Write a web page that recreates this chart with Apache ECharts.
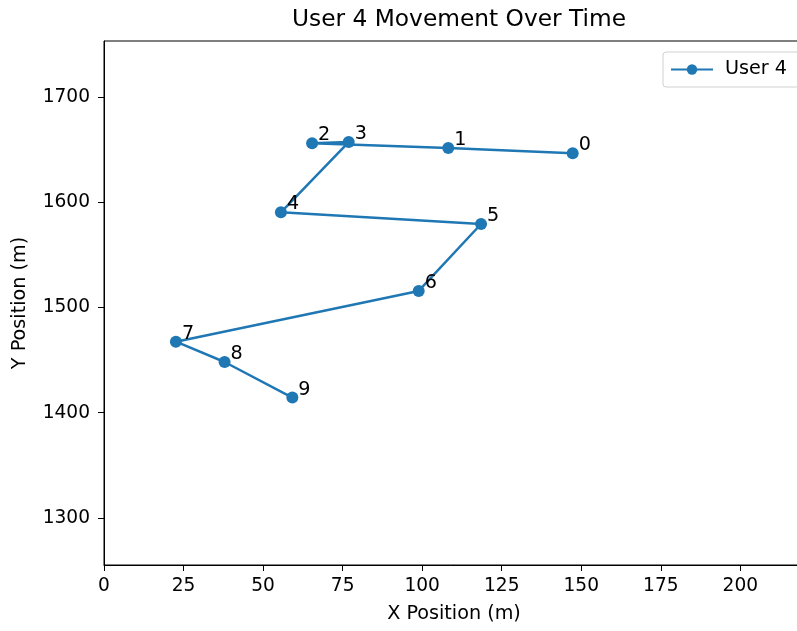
<!DOCTYPE html>
<html>
<head>
<meta charset="utf-8">
<script src="https://cdn.jsdelivr.net/npm/echarts@6/dist/echarts.min.js"></script>
<style>
html,body{margin:0;padding:0;background:#fff;}
#chart{width:797px;height:631px;}
</style>
</head>
<body>
<div id="chart"></div>
<script>
const pointLabels = ['0','1','2','3','4','5','6','7','8','9'];
const xValues = [147.3, 108.2, 65.4, 76.9, 55.6, 118.5, 98.9, 22.6, 37.9, 59.2];
const yValues = [1646.5, 1651.5, 1656.1, 1657.2, 1590.4, 1579.3, 1515.7, 1467.5, 1448.2, 1414.4];
const xTicks = [0, 25, 50, 75, 100, 125, 150, 175, 200];
const yTicks = [1300, 1400, 1500, 1600, 1700];
const seriesName = 'User 4';

const data = xValues.map((x, i) => [x, yValues[i]]);
const font = 'DejaVu Sans';
const fs = 19.2;
const tfs = 18.6;
const chart = echarts.init(document.getElementById('chart'), null, {renderer: 'canvas'});
chart.setOption({
  animation: false,
  backgroundColor: '#fff',
  title: {
    text: 'User 4 Movement Over Time',
    left: 454, top: 3, textAlign: 'center',
    textStyle: {fontFamily: font, fontSize: 23.3, fontWeight: 'normal', color: '#000'}
  },
  legend: {
    left: 663, top: 52,
    padding: [8, 12, 8, 7],
    borderColor: '#d0d0d0', borderWidth: 1, borderRadius: 3,
    itemWidth: 42, itemHeight: 13,
    textStyle: {fontFamily: font, fontSize: fs, color: '#000', padding: [0, 0, 0, 7]},
    data: [seriesName]
  },
  grid: {
    left: 104, width: 700, top: 41, height: 524,
    outerBoundsMode: 'none',
    show: true, borderColor: '#000', borderWidth: 1, containLabel: false
  },
  xAxis: {
    type: 'value', min: 0, max: 220,
    name: 'X Position (m)', nameLocation: 'middle', nameGap: 40,
    nameTextStyle: {fontFamily: font, fontSize: fs, color: '#000'},
    axisLine: {show: true, lineStyle: {color: '#000'}},
    axisTick: {show: true, length: 6, lineStyle: {color: '#000'}, customValues: xTicks},
    axisLabel: {fontFamily: font, fontSize: tfs, color: '#000', margin: 12, customValues: xTicks,
                formatter: v => String(v)},
    splitLine: {show: false}
  },
  yAxis: {
    type: 'value', min: 1255.3, max: 1753.2,
    name: 'Y Position (m)', nameLocation: 'middle', nameGap: 74, nameRotate: 90,
    nameTextStyle: {fontFamily: font, fontSize: fs, color: '#000'},
    axisLine: {show: true, lineStyle: {color: '#000'}},
    axisTick: {show: true, length: 6, lineStyle: {color: '#000'}, customValues: yTicks},
    axisLabel: {fontFamily: font, fontSize: tfs, color: '#000', margin: 14, customValues: yTicks,
                formatter: v => String(v)},
    splitLine: {show: false}
  },
  series: [{
    name: seriesName,
    type: 'line',
    data: data,
    color: '#1f77b4',
    symbol: 'circle',
    symbolSize: 12,
    lineStyle: {width: 2.5, color: '#1f77b4'},
    itemStyle: {color: '#1f77b4'},
    label: {
      show: true, position: 'right', distance: 0, offset: [0, -8],
      fontFamily: font, fontSize: fs, color: '#000',
      formatter: p => pointLabels[p.dataIndex]
    }
  }]
});
</script>
</body>
</html>
